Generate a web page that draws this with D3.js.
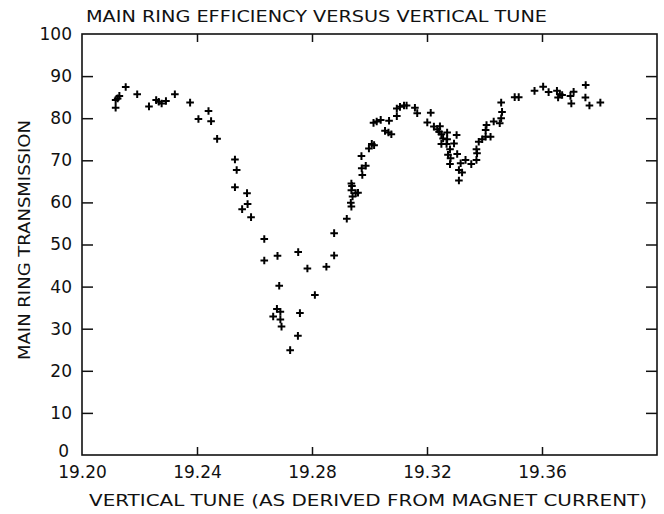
<!DOCTYPE html>
<html lang="en">
	<head>
		<meta charset="utf-8">
		<title>Main Ring Efficiency</title>
		<script src="https://d3js.org/d3.v7.min.js"></script>
		<style>
			html, body {
				margin: 0;
				padding: 0;
				background: #fff;
			}
			text {
				font-family: "DejaVu Sans", sans-serif;
				fill: #111;
			}
			.axis path {
				display: none;
			}
			.axis line {
				stroke: #111;
				stroke-width: 1.5px;
			}
			.axis text {
				font-size: 17px;
			}
			.frame {
				fill: none;
				stroke: #111;
				stroke-width: 1.6px;
			}
			.marks path {
				stroke: #000;
				stroke-width: 2px;
				fill: none;
			}
		</style>
	</head>
	<body>
		<div id="chart"></div>
		<script>
			// data
			var tune = [
				19.2117, 19.2117, 19.2124, 19.2130, 19.2152, 19.2192, 19.2233, 19.2258, 19.2267, 19.2277,
				19.2292, 19.2323, 19.2376, 19.2405, 19.2440, 19.2449, 19.2470, 19.2532, 19.2538, 19.2532,
				19.2574, 19.2576, 19.2557, 19.2588, 19.2634, 19.2634, 19.2680, 19.2686, 19.2678, 19.2690,
				19.2665, 19.2690, 19.2694, 19.2724, 19.2751, 19.2758, 19.2752, 19.2784, 19.2810, 19.2850,
				19.2877, 19.2877, 19.2921, 19.2937, 19.2935, 19.2941, 19.2952, 19.2960, 19.2937, 19.2939,
				19.2937, 19.2975, 19.2973, 19.2987, 19.2972, 19.2998, 19.3008, 19.3016, 19.3014, 19.3025,
				19.3039, 19.3054, 19.3066, 19.3076, 19.3068, 19.3095, 19.3095, 19.3106, 19.3120, 19.3129,
				19.3158, 19.3166, 19.3213, 19.3201, 19.3224, 19.3236, 19.3245, 19.3242, 19.3250, 19.3270,
				19.3256, 19.3270, 19.3303, 19.3250, 19.3268, 19.3294, 19.3280, 19.3273, 19.3282, 19.3305,
				19.3280, 19.3334, 19.3317, 19.3354, 19.3372, 19.3374, 19.3372, 19.3380, 19.3392, 19.3404,
				19.3421, 19.3404, 19.3407, 19.3432, 19.3453, 19.3458, 19.3461, 19.3311, 19.3322, 19.3311,
				19.3458, 19.3505, 19.3519, 19.3574, 19.3604, 19.3623, 19.3652, 19.3662, 19.3656, 19.3670,
				19.3699, 19.3710, 19.3702, 19.3752, 19.3751, 19.3765, 19.3803
			];
			var transmission = [
				82.5, 84.3, 84.7, 85.3, 87.4, 85.7, 82.8, 84.3, 83.9, 83.5,
				84.1, 85.7, 83.7, 79.8, 81.7, 79.3, 75.1, 70.2, 67.7, 63.6,
				62.2, 59.6, 58.4, 56.5, 51.3, 46.2, 47.3, 40.2, 34.7, 34.0,
				32.9, 32.2, 30.5, 24.9, 28.3, 33.7, 48.2, 44.3, 38.0, 44.7,
				47.4, 52.7, 56.1, 59.0, 59.9, 61.4, 62.2, 62.3, 62.9, 63.9,
				64.5, 66.5, 68.1, 68.7, 71.0, 72.8, 73.9, 73.6, 78.9, 79.2,
				79.6, 77.0, 76.6, 76.2, 79.4, 80.5, 82.3, 82.7, 83.0, 83.0,
				82.5, 81.2, 81.3, 79.0, 78.0, 77.4, 78.1, 76.8, 76.2, 76.6,
				75.2, 75.0, 76.0, 73.9, 73.9, 74.0, 72.6, 71.3, 70.5, 71.5,
				69.1, 70.1, 69.3, 69.1, 70.1, 71.7, 72.6, 74.4, 75.0, 75.6,
				75.6, 77.2, 78.4, 79.2, 78.8, 80.0, 81.5, 67.7, 67.1, 65.2,
				83.7, 85.0, 85.0, 86.5, 87.5, 86.2, 86.5, 85.7, 84.9, 85.5,
				85.3, 86.3, 83.5, 87.9, 84.9, 83.0, 83.7
			];
			var xTicks = [19.20, 19.24, 19.28, 19.32, 19.36];
			var yTicks = [0, 10, 20, 30, 40, 50, 60, 70, 80, 90, 100];

			var w = 664, h = 514;
			// plot box (note: "top" is taken by window.top, so prefix these)
			var pLeft = 82, pRight = 657, pTop = 34, pBottom = 455;

			var x = d3.scaleLinear()
					.domain([19.20, 19.40])
					.range([pLeft, pRight]);
			var y = d3.scaleLinear()
					.domain([0, 100])
					.range([pBottom, pTop]);

			var svg = d3.select("#chart")
					.append("svg")
					.attr("width", w)
					.attr("height", h);

			// frame round the plot
			svg.append("rect")
				.attr("class", "frame")
				.attr("x", pLeft)
				.attr("y", pTop)
				.attr("width", pRight - pLeft)
				.attr("height", pBottom - pTop);

			// bottom axis with labels, ticks pointing in
			var xAxis = svg.append("g")
				.attr("class", "axis")
				.attr("transform", "translate(0," + pBottom + ")")
				.call(d3.axisBottom(x)
					.tickValues(xTicks)
					.tickFormat(d3.format(".2f"))
					.tickSizeInner(-8)
					.tickSizeOuter(0)
					.tickPadding(11));
			xAxis.selectAll(".tick line")
				.filter(function(d) { return d == 19.20; })
				.remove();

			// top axis, ticks only
			svg.append("g")
				.attr("class", "axis")
				.attr("transform", "translate(0," + pTop + ")")
				.call(d3.axisTop(x)
					.tickValues(xTicks.slice(1))
					.tickFormat("")
					.tickSizeInner(-8)
					.tickSizeOuter(0));

			// left axis with labels
			var yAxis = svg.append("g")
				.attr("class", "axis")
				.attr("transform", "translate(" + pLeft + ",0)")
				.call(d3.axisLeft(y)
					.tickValues(yTicks)
					.tickSizeInner(-11)
					.tickSizeOuter(0)
					.tickPadding(10));
			yAxis.selectAll(".tick line")
				.filter(function(d) { return d == 0 || d == 100; })
				.remove();
			// the zero sits a little higher and further left in the original
			yAxis.selectAll(".tick text")
				.filter(function(d) { return d == 0; })
				.attr("x", -13)
				.attr("dy", "0.1em");

			// right axis, ticks only
			svg.append("g")
				.attr("class", "axis")
				.attr("transform", "translate(" + pRight + ",0)")
				.call(d3.axisRight(y)
					.tickValues(yTicks.slice(1, 10))
					.tickFormat("")
					.tickSizeInner(-11)
					.tickSizeOuter(0));

			// plus markers
			var points = tune.map(function(t, i) { return [t, transmission[i]]; });
			var s = 3.8;
			svg.append("g")
				.attr("class", "marks")
				.selectAll("path")
				.data(points)
				.enter()
				.append("path")
				.attr("d", function(d) {
					var px = x(d[0]), py = y(d[1]);
					return "M" + (px - s) + "," + py + "H" + (px + s) +
						"M" + px + "," + (py - s) + "V" + (py + s);
				});

			// titles
			svg.append("text")
				.attr("x", 86)
				.attr("y", 22)
				.attr("textLength", 461)
				.attr("lengthAdjust", "spacingAndGlyphs")
				.style("font-size", "16px")
				.text("MAIN RING EFFICIENCY VERSUS VERTICAL TUNE");

			svg.append("text")
				.attr("x", 89)
				.attr("y", 506)
				.attr("textLength", 558)
				.attr("lengthAdjust", "spacingAndGlyphs")
				.style("font-size", "16px")
				.text("VERTICAL TUNE (AS DERIVED FROM MAGNET CURRENT)");

			svg.append("text")
				.attr("transform", "translate(30,240) rotate(-90)")
				.attr("text-anchor", "middle")
				.attr("textLength", 240)
				.attr("lengthAdjust", "spacingAndGlyphs")
				.style("font-size", "16px")
				.text("MAIN RING TRANSMISSION");
		</script>
	</body>
</html>
